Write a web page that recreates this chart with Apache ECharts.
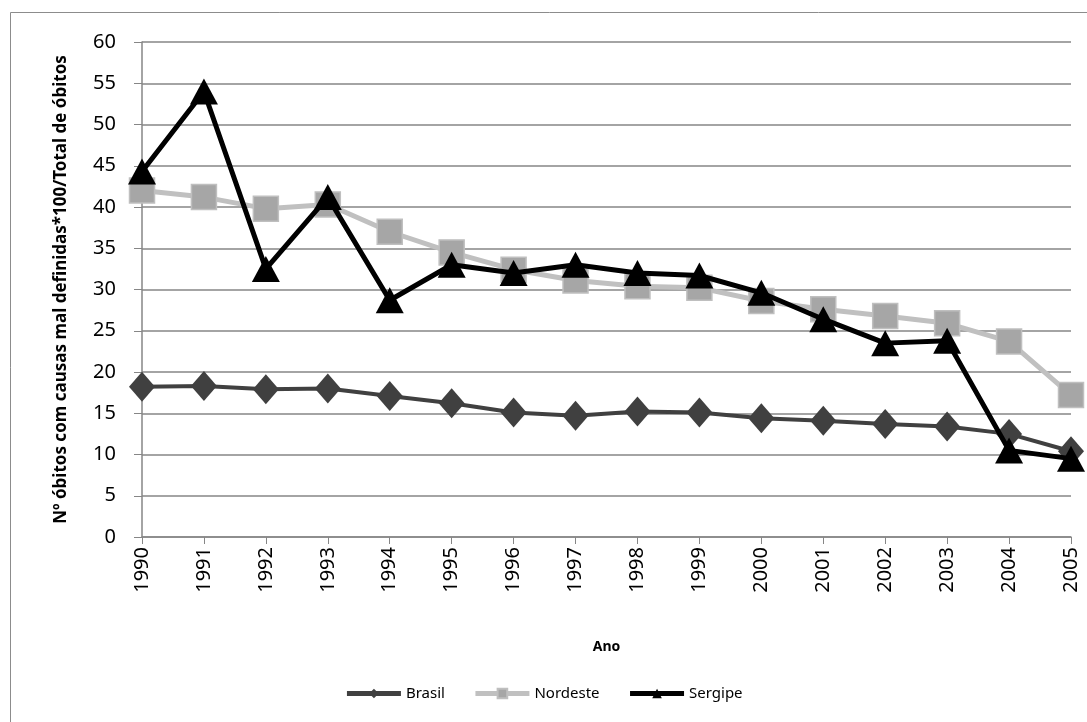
<!DOCTYPE html>
<html>
<head>
<meta charset="utf-8">
<script src="https://cdn.jsdelivr.net/npm/echarts@6/dist/echarts.min.js"></script>
<style>
  html, body { margin: 0; padding: 0; background: #fff; }
  #container { width: 1087px; height: 722px; }
</style>
</head>
<body>
<div id="container"></div>
<script>
const chartIns = echarts.init(document.getElementById('container'));

// anos
const years = ['1990', '1991', '1992', '1993', '1994', '1995', '1996', '1997',
  '1998', '1999', '2000', '2001', '2002', '2003', '2004', '2005'];

// % óbitos com causas mal definidas
const brasil = [18.2, 18.3, 17.9, 18.0, 17.1, 16.2, 15.1, 14.7, 15.2, 15.1, 14.4, 14.1, 13.7, 13.4, 12.5, 10.4];
const nordeste = [42.0, 41.2, 39.8, 40.3, 37.0, 34.5, 32.4, 31.1, 30.4, 30.2, 28.6, 27.6, 26.8, 25.9, 23.7, 17.2];
const sergipe = [44.3, 54.0, 32.5, 41.2, 28.7, 33.0, 32.0, 33.0, 32.0, 31.7, 29.6, 26.4, 23.5, 23.8, 10.5, 9.5];

const font = '"Noto Sans", "DejaVu Sans", sans-serif';
const axisGray = '#868686';

const option = {
  animation: false,
  backgroundColor: '#fff',
  graphic: [{
    type: 'rect',
    shape: { x: 10.5, y: 12.5, width: 1090, height: 720 },
    style: { fill: 'none', stroke: '#8c8c8c', lineWidth: 1 },
    silent: true
  }],
  grid: { left: 142, right: 16, top: 42, bottom: 185 },
  legend: {
    bottom: 16,
    left: 'center',
    itemWidth: 54,
    itemHeight: 12,
    itemGap: 28,
    lineStyle: { width: 5 },
    textStyle: { fontFamily: font, fontSize: 15, color: '#000' },
    data: ['Brasil', 'Nordeste', 'Sergipe']
  },
  xAxis: {
    type: 'category',
    data: years,
    boundaryGap: false,
    name: 'Ano',
    nameLocation: 'middle',
    nameGap: 103,
    nameTextStyle: { fontFamily: font, fontSize: 14, fontWeight: 'bold', color: '#000' },
    axisLine: { lineStyle: { color: axisGray, width: 1.5 } },
    axisTick: { show: true, alignWithLabel: true, length: 7, lineStyle: { color: axisGray } },
    axisLabel: { rotate: 90, fontFamily: font, fontSize: 20, color: '#000', margin: 10, interval: 0 },
    splitLine: { show: false }
  },
  yAxis: {
    type: 'value',
    min: 0,
    max: 60,
    interval: 5,
    name: 'Nº óbitos com causas mal definidas*100/Total de óbitos',
    nameLocation: 'middle',
    nameGap: 72,
    nameTextStyle: { fontFamily: font, fontSize: 17, fontWeight: 'bold', color: '#000' },
    axisLine: { show: true, lineStyle: { color: axisGray, width: 1.5 } },
    axisTick: { show: true, length: 8, lineStyle: { color: axisGray } },
    axisLabel: { fontFamily: font, fontSize: 20, color: '#000', margin: 26 },
    splitLine: { lineStyle: { color: axisGray, width: 1.5 } }
  },
  series: [
    {
      name: 'Brasil',
      type: 'line',
      data: brasil,
      symbol: 'diamond',
      symbolSize: [26, 30],
      lineStyle: { color: '#404040', width: 4 },
      itemStyle: { color: '#404040' },
      z: 2
    },
    {
      name: 'Nordeste',
      type: 'line',
      data: nordeste,
      symbol: 'rect',
      symbolSize: 25,
      lineStyle: { color: '#c0c0c0', width: 5 },
      itemStyle: { color: '#a6a6a6', borderColor: '#bfbfbf', borderWidth: 1.5 },
      z: 3
    },
    {
      name: 'Sergipe',
      type: 'line',
      data: sergipe,
      symbol: 'triangle',
      symbolSize: [28, 26],
      lineStyle: { color: '#000', width: 5 },
      itemStyle: { color: '#000' },
      z: 4
    }
  ]
};

chartIns.setOption(option);
</script>
</body>
</html>
